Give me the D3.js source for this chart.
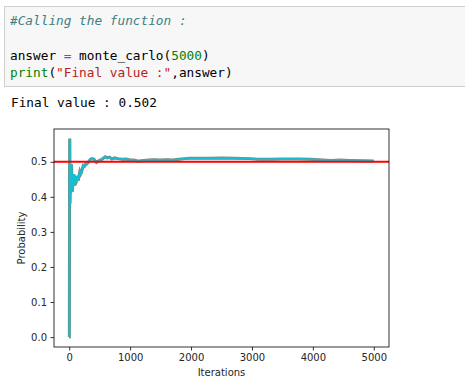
<!DOCTYPE html>
<html><head><meta charset="utf-8">
<script src="https://cdn.jsdelivr.net/npm/d3@7"></script>
<style>
html,body{margin:0;padding:0;background:#fff;}
svg{display:block;}
</style></head>
<body>
<svg id="c" width="465" height="388"></svg>
<script>
// ---- data ----
const iterations = [1, 2, 4, 6, 8, 10, 14, 18, 24, 30, 38, 46, 54, 60, 68, 75, 84, 92, 100, 110, 120, 130, 140, 148, 160, 174, 188, 202, 216, 230, 250, 270, 284, 300, 312, 330, 350, 366, 385, 404, 425, 448, 465, 486, 510, 530, 560, 590, 620, 662, 700, 744, 800, 870, 930, 990, 1060, 1110, 1154, 1220, 1300, 1400, 1483, 1600, 1700, 1800, 1900, 1975, 2100, 2304, 2500, 2700, 2961, 3100, 3300, 3500, 3782, 3950, 4160, 4300, 4450, 4603, 4800, 5000];
const probability = [0, 0, 0.25, 0.5, 0.566, 0.56, 0.38, 0.44, 0.41, 0.46, 0.493, 0.44, 0.415, 0.45, 0.44, 0.465, 0.45, 0.432, 0.45, 0.445, 0.46, 0.45, 0.455, 0.446, 0.46, 0.472, 0.465, 0.47, 0.48, 0.489, 0.487, 0.494, 0.493, 0.496, 0.498, 0.503, 0.507, 0.509, 0.508, 0.508, 0.503, 0.498, 0.5, 0.503, 0.505, 0.506, 0.51, 0.514, 0.511, 0.513, 0.508, 0.511, 0.509, 0.507, 0.508, 0.506, 0.505, 0.503, 0.502, 0.504, 0.505, 0.506, 0.505, 0.506, 0.505, 0.507, 0.509, 0.51, 0.51, 0.51, 0.511, 0.51, 0.509, 0.507, 0.507, 0.508, 0.508, 0.507, 0.505, 0.504, 0.505, 0.504, 0.503, 0.502];
const referenceLine = 0.5;
const xTicks = [0, 1000, 2000, 3000, 4000, 5000];
const yTicks = [0.0, 0.1, 0.2, 0.3, 0.4, 0.5];
const xLabel = "Iterations";
const yLabel = "Probability";
const codeLines = [
  [["#Calling the function :", "#408080", "italic"]],
  [],
  [["answer ", "#000"], ["=", "#aa22ff"], [" monte_carlo(", "#000"], ["5000", "#008000"], [")", "#000"]],
  [["print", "#008000"], ["(", "#000"], ["\"Final value :\"", "#ba2121"], [",answer)", "#000"]]
];
const outputText = "Final value : 0.502";

// ---- drawing ----
const svg = d3.select("#c");
const mono = "'DejaVu Sans Mono','Liberation Mono',monospace";

// code cell
svg.append("rect").attr("x", 4.5).attr("y", 6.5).attr("width", 470).attr("height", 80)
  .attr("fill", "#f7f7f7").attr("stroke", "#cfcfcf").attr("stroke-width", 1);
const lineY = [25, 42, 60, 77];
codeLines.forEach((segs, i) => {
  if (!segs.length) return;
  const t = svg.append("text").attr("x", 10).attr("y", lineY[i])
    .attr("font-family", mono).attr("font-size", "12.75px")
    .style("white-space", "pre");
  segs.forEach(s => {
    t.append("tspan").attr("fill", s[1]).attr("font-style", s[2] || "normal").text(s[0]);
  });
});
svg.append("text").attr("x", 11).attr("y", 107)
  .attr("font-family", mono).attr("font-size", "12.75px").attr("fill", "#000")
  .style("white-space", "pre").text(outputText);

// chart
const L = 54, R = 389, T = 129, B = 347;
const x = d3.scaleLinear().domain([-250, 5250]).range([L, R]);
const y = d3.scaleLinear().domain([-0.0283, 0.5935]).range([B, T]);

const g = svg.append("g");
const clip = svg.append("clipPath").attr("id", "cp");
clip.append("rect").attr("x", L).attr("y", T).attr("width", R - L).attr("height", B - T);

const pts = iterations.map((d, i) => [d, probability[i]]);
const line = d3.line().x(d => x(d[0])).y(d => y(d[1]));
const plot = g.append("g").attr("clip-path", "url(#cp)");
plot.append("path").datum(pts).attr("d", line).attr("fill", "none")
  .attr("stroke", "#8a8070").attr("stroke-width", 3).attr("stroke-linejoin", "miter");
plot.append("path").datum(pts).attr("d", line).attr("fill", "none")
  .attr("stroke", "#17becf").attr("stroke-width", 2).attr("stroke-linejoin", "miter");
plot.append("line").attr("x1", L).attr("x2", R)
  .attr("y1", y(referenceLine)).attr("y2", y(referenceLine))
  .attr("stroke", "#ff0000").attr("stroke-width", 2);

// axes
const font = "'DejaVu Sans',sans-serif";
const xAxis = g.append("g").attr("transform", `translate(0,${B})`)
  .call(d3.axisBottom(x).tickValues(xTicks).tickFormat(d3.format("d")).tickSizeInner(3.5).tickSizeOuter(0).tickPadding(3.5));
const yAxis = g.append("g").attr("transform", `translate(${L},0)`)
  .call(d3.axisLeft(y).tickValues(yTicks).tickFormat(d3.format(".1f")).tickSizeInner(3.5).tickSizeOuter(0).tickPadding(3.5));
[xAxis, yAxis].forEach(a => {
  a.select(".domain").remove();
  a.selectAll("line").attr("stroke", "#000").attr("stroke-width", 0.8);
  a.selectAll("text").attr("font-family", font).attr("font-size", "10px").attr("fill", "#262626");
});
// spines
g.append("rect").attr("x", L).attr("y", T).attr("width", R - L).attr("height", B - T)
  .attr("fill", "none").attr("stroke", "#000").attr("stroke-width", 0.8);

g.append("text").attr("x", (L + R) / 2).attr("y", 376).attr("text-anchor", "middle")
  .attr("font-family", font).attr("font-size", "10px").attr("fill", "#262626").text(xLabel);
g.append("text").attr("transform", `translate(25,${(T + B) / 2}) rotate(-90)`).attr("text-anchor", "middle")
  .attr("font-family", font).attr("font-size", "10px").attr("fill", "#262626").text(yLabel);
</script>
</body></html>
